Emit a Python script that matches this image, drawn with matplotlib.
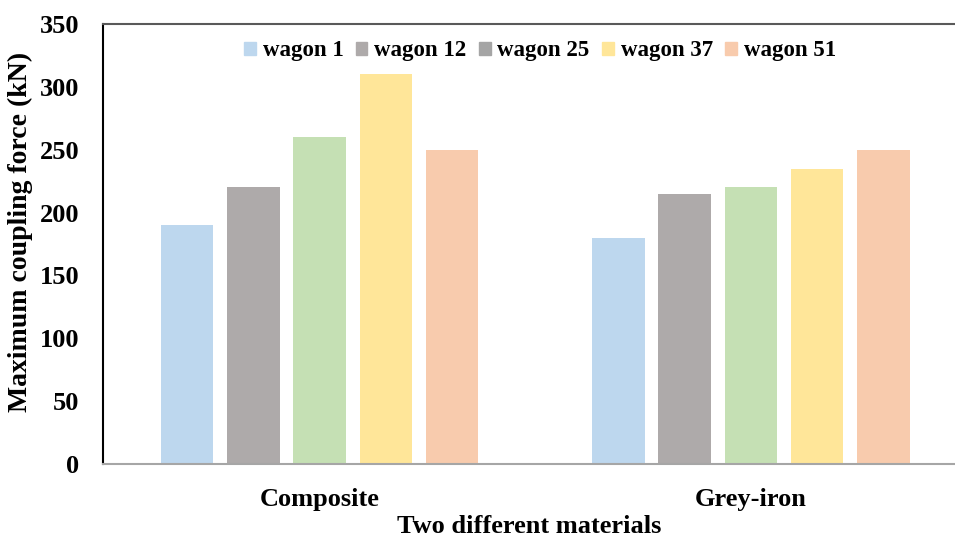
import matplotlib
matplotlib.use("Agg")
from matplotlib import pyplot as plt
from matplotlib.patches import Patch
import numpy as np

plt.rcParams['font.family'] = ['Liberation Serif', 'DejaVu Serif']
plt.rcParams['font.weight'] = 'bold'

materials = ['Composite', 'Grey-iron']
wagons = ['wagon 1', 'wagon 12', 'wagon 25', 'wagon 37', 'wagon 51']
forces = {
    'wagon 1': [190, 180],
    'wagon 12': [220, 215],
    'wagon 25': [260, 220],
    'wagon 37': [310, 235],
    'wagon 51': [250, 250],
}
bar_colors = ['#BDD7EE', '#AEAAAA', '#C5E0B4', '#FFE699', '#F8CBAD']
legend_colors = ['#BDD7EE', '#AEAAAA', '#A5A5A5', '#FFE699', '#F8CBAD']

fig = plt.figure(figsize=(9.55, 5.36), dpi=100)
ax = fig.add_axes([0.1079, 0.1343, 0.892, 0.8209])

x = np.arange(len(materials))
pitch = 0.1537
width = 0.1217
for i, w in enumerate(wagons):
    ax.bar(x + (i - 2) * pitch, forces[w], width, color=bar_colors[i], label=w)

ax.set_xlim(-0.502, 1.473)
ax.set_ylim(0, 350)
ax.set_yticks(range(0, 351, 50))
ax.set_xticks(x)
ax.set_xticklabels(materials)
ax.tick_params(axis='both', length=0, labelsize=19)
ax.tick_params(axis='y', pad=17)
ax.tick_params(axis='x', pad=17)

ax.spines['right'].set_visible(False)
ax.spines['left'].set_color('black')
ax.spines['left'].set_linewidth(1.5)
ax.spines['top'].set_color('#595959')
ax.spines['top'].set_linewidth(1.5)
ax.spines['bottom'].set_color('#A6A6A6')
ax.spines['bottom'].set_linewidth(1.5)

ax.set_ylabel('Maximum coupling force (kN)', fontsize=20, fontweight='bold')
ax.yaxis.set_label_coords(-0.082, 0.527)
ax.set_xlabel('Two different materials', fontsize=19, fontweight='bold', labelpad=3)

handles = [Patch(color=c, label=w) for c, w in zip(legend_colors, wagons)]
ax.legend(handles=handles, loc='upper center', bbox_to_anchor=(0.513, 1.01), ncol=5,
          frameon=False, handlelength=0.5, handleheight=0.5,
          handletextpad=0.3, columnspacing=0.55, prop={'weight': 'bold', 'size': 16.5})

fig.savefig('out.png', dpi=100)
